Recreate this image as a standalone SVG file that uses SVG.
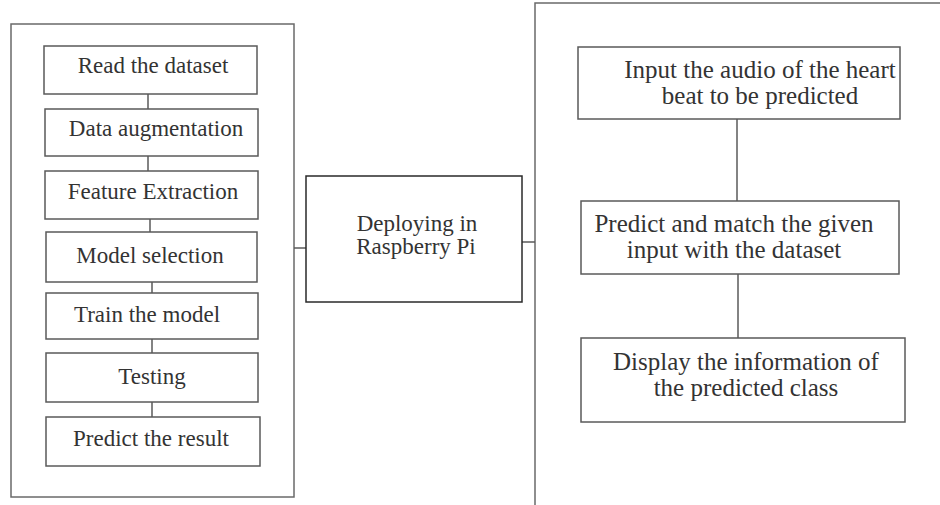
<svg xmlns="http://www.w3.org/2000/svg" width="940" height="505" viewBox="0 0 940 505">
  <style>
    .frame { fill: none; stroke: #6a6a6a; stroke-width: 1.5; }
    .box { fill: #ffffff; stroke: #5a5a5a; stroke-width: 1.5; }
    .box-dark { fill: #ffffff; stroke: #2a2a2a; stroke-width: 1.5; }
    .link { fill: none; stroke: #5a5a5a; stroke-width: 1.5; }
    text { font-family: "Liberation Serif", "Times New Roman", serif; fill: #333333; text-anchor: middle; }
    .s23 { font-size: 23px; }
    .s25 { font-size: 25px; }
  </style>
  <rect width="940" height="505" fill="#ffffff"/>

  <!-- outer panels -->
  <g id="training-panel">
    <rect class="frame" x="11" y="24" width="283" height="473"/>
  </g>
  <g id="device-panel">
    <path class="frame" d="M535,505 V3 H940"/>
  </g>

  <!-- connectors -->
  <g id="connectors">
    <line class="link" x1="148" y1="94" x2="148" y2="109"/>
    <line class="link" x1="148" y1="156" x2="148" y2="171"/>
    <line class="link" x1="150" y1="219" x2="150" y2="232"/>
    <line class="link" x1="152" y1="282" x2="152" y2="293"/>
    <line class="link" x1="152" y1="339" x2="152" y2="353"/>
    <line class="link" x1="152" y1="402" x2="152" y2="417"/>
    <line class="link" x1="294" y1="248" x2="306" y2="248"/>
    <line class="link" x1="522" y1="242" x2="535" y2="242"/>
    <line class="link" x1="737" y1="119" x2="737" y2="201"/>
    <line class="link" x1="738" y1="274" x2="738" y2="338"/>
  </g>

  <!-- training pipeline -->
  <g id="read-dataset">
    <rect class="box" x="44" y="46" width="213" height="48"/>
    <text class="s23" x="153" y="73">Read the dataset</text>
  </g>
  <g id="data-augmentation">
    <rect class="box" x="45" y="109" width="213" height="47"/>
    <text class="s23" x="156" y="136">Data augmentation</text>
  </g>
  <g id="feature-extraction">
    <rect class="box" x="45" y="171" width="213" height="48"/>
    <text class="s23" x="153" y="199">Feature Extraction</text>
  </g>
  <g id="model-selection">
    <rect class="box" x="46" y="232" width="211" height="50"/>
    <text class="s23" x="150" y="263">Model selection</text>
  </g>
  <g id="train-model">
    <rect class="box" x="46" y="293" width="212" height="46"/>
    <text class="s23" x="147" y="322">Train the model</text>
  </g>
  <g id="testing">
    <rect class="box" x="46" y="353" width="212" height="49"/>
    <text class="s23" x="152" y="384">Testing</text>
  </g>
  <g id="predict-result">
    <rect class="box" x="46" y="417" width="214" height="49"/>
    <text class="s23" x="151" y="446">Predict the result</text>
  </g>

  <!-- deployment -->
  <g id="deploy-raspberry-pi">
    <rect class="box-dark" x="306" y="176" width="216" height="126"/>
    <text class="s23" x="417" y="231">Deploying in</text>
    <text class="s23" x="416" y="254">Raspberry Pi</text>
  </g>

  <!-- on-device flow -->
  <g id="input-audio">
    <rect class="box" x="578" y="47" width="322" height="72"/>
    <text class="s25" x="760" y="78">Input the audio of the heart</text>
    <text class="s25" x="760" y="104">beat to be predicted</text>
  </g>
  <g id="predict-match">
    <rect class="box" x="581" y="201" width="318" height="73"/>
    <text class="s25" x="734" y="232">Predict and match the given</text>
    <text class="s25" x="734" y="258">input with the dataset</text>
  </g>
  <g id="display-class">
    <rect class="box" x="581" y="338" width="324" height="84"/>
    <text class="s25" x="746" y="370">Display the information of</text>
    <text class="s25" x="746" y="396">the predicted class</text>
  </g>
</svg>
